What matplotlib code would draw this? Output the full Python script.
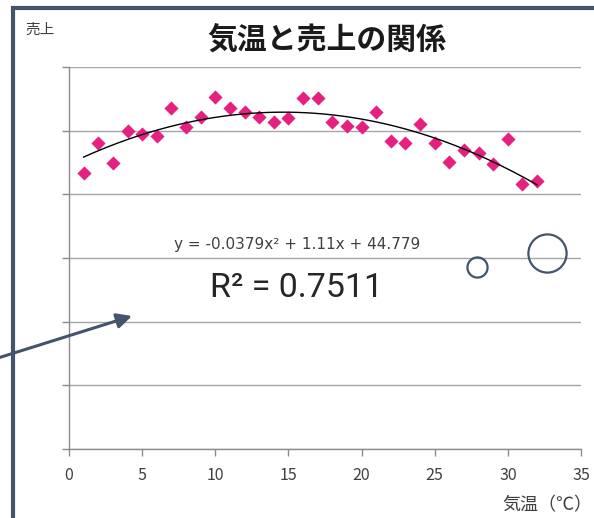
import numpy as np
import matplotlib
matplotlib.use("Agg")
import matplotlib.pyplot as plt
from matplotlib.patches import Rectangle

plt.rcParams['font.family'] = ['Noto Sans CJK JP', 'DejaVu Sans']

# data
temps = list(range(1, 33))
sales = [43.4, 48.1, 45.0, 50.0, 49.5, 49.2, 53.5, 50.5, 52.2, 55.3,
         53.5, 53.0, 52.2, 51.4, 52.0, 55.2, 55.2, 51.3, 50.8, 50.5,
         53.0, 48.4, 48.1, 51.1, 48.0, 45.1, 47.0, 46.5, 44.8, 48.7,
         41.7, 42.1]
trend_coef = [-0.0379, 1.11, 44.779]   # from the equation label
x_ticks = [0, 5, 10, 15, 20, 25, 30, 35]
y_grid = [0, 10, 20, 30, 40, 50, 60]

W, H = 594, 518
fig = plt.figure(figsize=(W / 100, H / 100), dpi=100)
ax = fig.add_axes([69 / W, 1 - 449 / H, (581 - 69) / W, (449 - 67) / H])

edge = '#44546A'
gray = '#8C8C8C'
txt = '#404040'

ax.scatter(temps, sales, marker='D', s=52, color='#E5207E', zorder=3, linewidths=0)
xs = np.linspace(temps[0], temps[-1], 200)
ax.plot(xs, np.polyval(trend_coef, xs), color='black', lw=1.0, zorder=4)

ax.set_xlim(0, 35)
ax.set_ylim(0, 60)
ax.set_xticks(x_ticks)
ax.set_xticklabels([str(v) for v in x_ticks], fontsize=11.5, color=txt)
ax.set_yticks(y_grid)
ax.set_yticklabels([])
ax.grid(axis='y', color='#A6A6A6', lw=1.0)
ax.set_axisbelow(True)
for s in ['top', 'right']:
    ax.spines[s].set_visible(False)
for s in ['left', 'bottom']:
    ax.spines[s].set_color(gray)
    ax.spines[s].set_linewidth(1.0)
ax.tick_params(axis='both', direction='out', length=5, width=1.0, color=gray, pad=8)

# open circles
ax.plot([27.9], [28.6], 'o', ms=14.5, mfc='none', mec=edge, mew=1.6, clip_on=False)
ax.plot([32.7], [30.8], 'o', ms=27.5, mfc='none', mec=edge, mew=1.6, clip_on=False)

# texts
fig.text(327 / W, 1 - 41 / H, '気温と売上の関係', ha='center', va='center',
         fontsize=21.5, fontweight='bold', color='#1A1A1A')
fig.text(25 / W, 1 - 30 / H, '売上', ha='left', va='center', fontsize=10.5, color=txt)
fig.text(592 / W, 1 - 505 / H, '気温（℃）', ha='right', va='center', fontsize=13, color=txt)
fig.text(297 / W, 1 - 244 / H, 'y = -0.0379x² + 1.11x + 44.779', ha='center', va='center',
         fontsize=11, color=txt, family=['DejaVu Sans'])
fig.text(297 / W, 1 - 288 / H, 'R² = 0.7511', ha='center', va='center',
         fontsize=24.5, color='#262626', family=['Roboto', 'DejaVu Sans'])

# frame and arrow
fig.patches.append(Rectangle((13 / W, -0.2), 2, 1.2 - 8 / H, transform=fig.transFigure,
                             fill=False, ec=edge, lw=3.0, clip_on=False))
fig.patches[-1].set_figure(fig)
ax.annotate('', xy=(132 / W, 1 - 316 / H), xytext=(-2 / W, 1 - 358 / H),
            xycoords='figure fraction', textcoords='figure fraction',
            arrowprops=dict(arrowstyle='-|>,head_length=0.9,head_width=0.45',
                            color=edge, lw=2.2, shrinkA=0, shrinkB=0),
            annotation_clip=False)

fig.savefig('out.png', dpi=100)
